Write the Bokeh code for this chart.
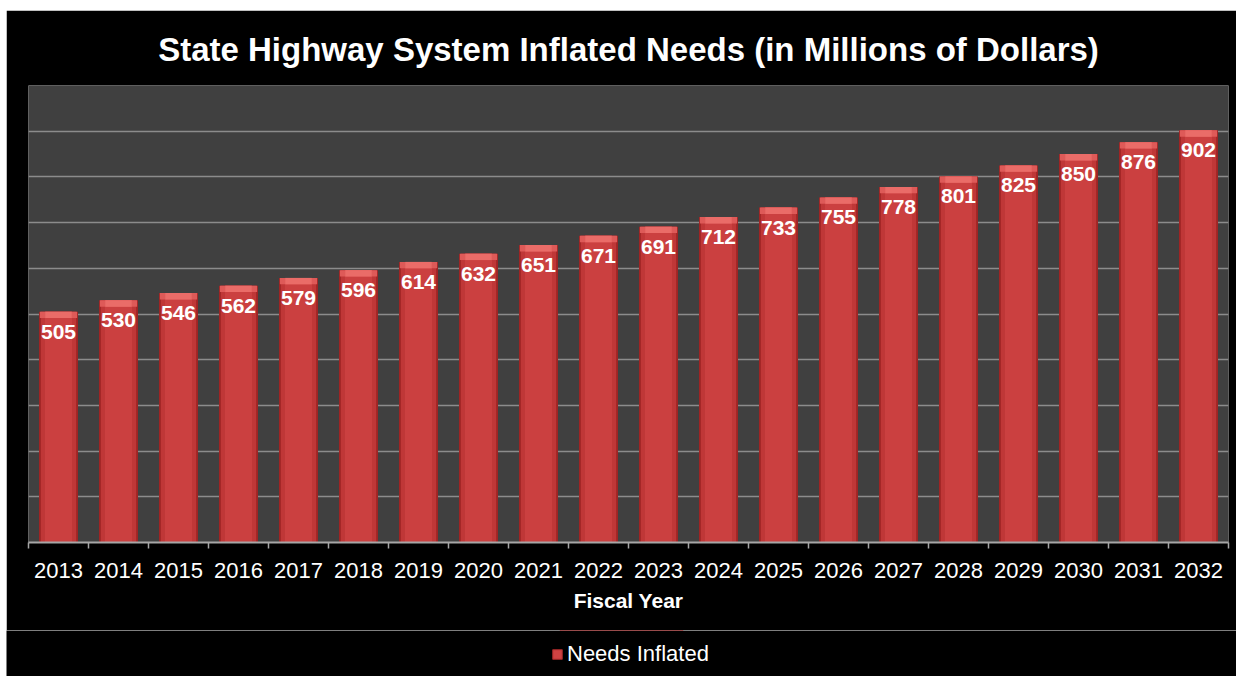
from bokeh.plotting import figure
from bokeh.models import (ColumnDataSource, Range1d, FixedTicker, LabelSet, Legend,
                          LegendItem, Spacer)
from bokeh.core.properties import value
from bokeh.layouts import row, column
from bokeh.embed import file_html
from bokeh.resources import INLINE

years = [2013, 2014, 2015, 2016, 2017, 2018, 2019, 2020, 2021, 2022,
         2023, 2024, 2025, 2026, 2027, 2028, 2029, 2030, 2031, 2032]
needs_inflated = [505, 530, 546, 562, 579, 596, 614, 632, 651, 671,
                  691, 712, 733, 755, 778, 801, 825, 850, 876, 902]
y_ticks = [0, 100, 200, 300, 400, 500, 600, 700, 800, 900, 1000]
series_name = "Needs Inflated"

FONT = "Liberation Sans"

xs = [i + 0.5 for i in range(len(years))]
src = ColumnDataSource(dict(
    x=xs,
    top=needs_inflated,
    cap=[v - 14 for v in needs_inflated],
    label=[str(v) for v in needs_inflated],
))

p = figure(width=1230, height=620, output_backend="svg", toolbar_location=None,
           x_range=Range1d(0, len(years)), y_range=Range1d(0, 1000),
           min_border_left=22, min_border_right=8, min_border_top=75, min_border_bottom=88)
p.background_fill_color = "#404040"
p.border_fill_color = "#000000"
p.outline_line_color = None

p.title.text = "State Highway System Inflated Needs (in Millions of Dollars)"
p.title.align = "center"
p.title.text_color = "#ffffff"
p.title.text_font = FONT
p.title.text_font_style = "bold"
p.title.text_font_size = "33px"
p.title.standoff = 36

p.yaxis.visible = False
p.yaxis.ticker = FixedTicker(ticks=y_ticks)
p.ygrid.ticker = FixedTicker(ticks=y_ticks)
p.ygrid.grid_line_color = "#8c8c8c"
p.ygrid.grid_line_width = 1.5
p.xgrid.visible = False

ax = p.xaxis[0]
ax.ticker = FixedTicker(ticks=xs, minor_ticks=list(range(len(years) + 1)))
ax.major_label_overrides = {float(x): str(y) for x, y in zip(xs, years)}
ax.major_tick_line_color = None
ax.major_tick_out = 0
ax.major_tick_in = 0
ax.minor_tick_line_color = "#a6a6a6"
ax.minor_tick_line_width = 1.5
ax.minor_tick_out = 6
ax.minor_tick_in = 0
ax.axis_line_color = "#a6a6a6"
ax.axis_line_width = 2
ax.major_label_text_color = "#ffffff"
ax.major_label_text_font = FONT
ax.major_label_text_font_size = "22px"
ax.major_label_standoff = 14
ax.axis_label = "Fiscal Year"
ax.axis_label_text_color = "#ffffff"
ax.axis_label_text_font = FONT
ax.axis_label_text_font_style = "bold"
ax.axis_label_text_font_size = "21px"
ax.axis_label_standoff = 8

# layered bars to imitate the shaded cylinder look
p.vbar(x="x", top="top", bottom=0, width=0.65, source=src, fill_color="#9e2424", line_color=None)
p.vbar(x="x", top="top", bottom=0, width=0.59, source=src, fill_color="#bf3737", line_color=None)
p.vbar(x="x", top="top", bottom=0, width=0.45, source=src, fill_color="#cb4040", line_color=None)
p.vbar(x="x", top="top", bottom="cap", width=0.62, source=src, fill_color="#de5a58", line_color=None)
p.vbar(x="x", top="top", bottom="cap", width=0.44, source=src, fill_color="#ea6c68", line_color=None)

labels = LabelSet(x="x", y="top", text="label", source=src, text_align="center",
                  text_baseline="top", y_offset=-13, text_color="#ffffff",
                  text_font=value(FONT), text_font_style="bold", text_font_size="21px")
p.add_layout(labels)

# legend strip below the chart (separate root so it is not frame-aligned with the chart)
lf = figure(width=1230, height=46, output_backend="svg", toolbar_location=None,
            x_range=Range1d(0, 1), y_range=Range1d(-2, -1),
            x_axis_location=None, y_axis_location=None,
            min_border=0, min_border_left=0, min_border_right=0,
            min_border_top=0, min_border_bottom=0)
lf.grid.grid_line_color = None
lf.outline_line_color = None
lf.background_fill_color = "#000000"
lf.border_fill_color = "#000000"
swatch = lf.vbar(x="x", top="top", bottom=0, width=0.1, source=src,
                 fill_color="#cf4242", line_color="#a02828")
legend = Legend(items=[LegendItem(label=series_name, renderers=[swatch])],
                location=(545, 9), orientation="horizontal",
                background_fill_alpha=0, border_line_color=None,
                label_text_color="#ffffff", label_text_font=FONT, label_text_font_size="22px",
                glyph_width=12, glyph_height=12, label_standoff=4, padding=0, margin=0)
lf.add_layout(legend, "center")

top_part = column(Spacer(height=10), row(Spacer(width=6), p))
bottom_part = row(Spacer(width=6), lf)
open("out.html", "w").write(file_html([top_part, bottom_part], INLINE))
